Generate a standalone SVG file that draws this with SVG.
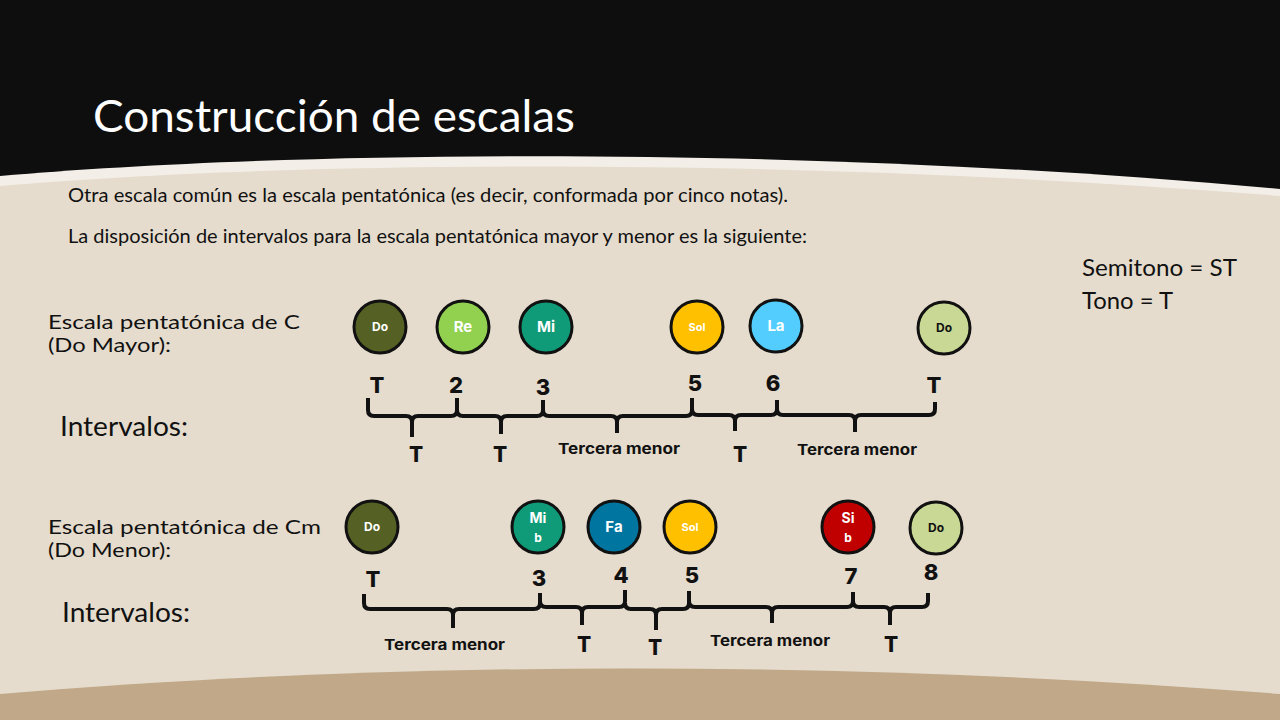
<svg xmlns="http://www.w3.org/2000/svg" width="1280" height="720" viewBox="0 0 1280 720">
<style>
.body{font-family:Lato,"Liberation Sans",sans-serif;fill:#111;}
.num{font-family:Inter,"Liberation Sans",sans-serif;font-weight:800;fill:#111;text-anchor:middle;}
.lab{font-family:Inter,"Liberation Sans",sans-serif;font-weight:700;fill:#111;font-size:15px;}
.note{stroke:#111;stroke-width:3;}
.nt{font-family:Inter,"Liberation Sans",sans-serif;font-weight:700;fill:#fff;text-anchor:middle;}
.brace{fill:none;stroke:#111;stroke-width:4;stroke-linejoin:round;}
</style>
<rect x="0" y="0" width="1280" height="720" fill="#0e0e0e"/>
<path d="M0,176 C300,150 800,145 1280,189 L1280,720 L0,720 Z" fill="#f3efe8"/>
<path d="M0,186 C300,160 800,157 1280,196 L1280,720 L0,720 Z" fill="#e5dccd"/>
<path d="M0,694 C400,660 850,660 1280,694 L1280,720 L0,720 Z" fill="#c0a888"/>

<text x="93" y="132" font-family="Lato,'Liberation Sans',sans-serif" font-size="44" fill="#ffffff" textLength="482" lengthAdjust="spacingAndGlyphs">Construcción de escalas</text>

<text class="body" x="68" y="202" font-size="19" textLength="720" lengthAdjust="spacingAndGlyphs">Otra escala común es la escala pentatónica (es decir, conformada por cinco notas).</text>
<text class="body" x="68" y="243" font-size="19" textLength="739" lengthAdjust="spacingAndGlyphs">La disposición de intervalos para la escala pentatónica mayor y menor es la siguiente:</text>

<text class="body" x="1082" y="276" font-size="24" textLength="155" lengthAdjust="spacingAndGlyphs">Semitono = ST</text>
<text class="body" x="1082" y="309" font-size="24" textLength="91" lengthAdjust="spacingAndGlyphs">Tono = T</text>

<text class="body" x="48" y="329" font-size="19" textLength="252" lengthAdjust="spacingAndGlyphs">Escala pentatónica de C</text>
<text class="body" x="48" y="352" font-size="19" textLength="123" lengthAdjust="spacingAndGlyphs">(Do Mayor):</text>
<text class="body" x="60" y="436" font-size="27" textLength="128" lengthAdjust="spacingAndGlyphs">Intervalos:</text>

<text class="body" x="48" y="534" font-size="19" textLength="273" lengthAdjust="spacingAndGlyphs">Escala pentatónica de Cm</text>
<text class="body" x="48" y="557" font-size="19" textLength="123" lengthAdjust="spacingAndGlyphs">(Do Menor):</text>
<text class="body" x="62" y="622" font-size="27" textLength="128" lengthAdjust="spacingAndGlyphs">Intervalos:</text>

<g id="n1-do"><circle class="note" cx="380" cy="327" r="26" fill="#556124"/><text class="nt" x="380" y="331" font-size="12">Do</text></g>
<g id="n1-re"><circle class="note" cx="463" cy="327" r="26" fill="#92d050"/><text class="nt" x="463" y="332" font-size="15">Re</text></g>
<g id="n1-mi"><circle class="note" cx="546" cy="327" r="26" fill="#0f9b77"/><text class="nt" x="546" y="332" font-size="15">Mi</text></g>
<g id="n1-sol"><circle class="note" cx="697" cy="327" r="26" fill="#ffc000"/><text class="nt" x="697" y="331" font-size="11">Sol</text></g>
<g id="n1-la"><circle class="note" cx="776" cy="326" r="26" fill="#52cdfd"/><text class="nt" x="776" y="331" font-size="15">La</text></g>
<g id="n1-do2"><circle class="note" cx="944" cy="328" r="26" fill="#c9d894"/><text class="nt" x="944" y="332" font-size="12" style="fill:#111">Do</text></g>

<g id="n2-do"><circle class="note" cx="372" cy="527" r="26" fill="#556124"/><text class="nt" x="372" y="531" font-size="12">Do</text></g>
<g id="n2-mib"><circle class="note" cx="538" cy="527" r="26" fill="#0f9b77"/><text class="nt" x="538" y="523" font-size="14">Mi</text><text class="nt" x="538" y="542" font-size="12">b</text></g>
<g id="n2-fa"><circle class="note" cx="614" cy="527" r="26" fill="#00759f"/><text class="nt" x="614" y="532" font-size="15">Fa</text></g>
<g id="n2-sol"><circle class="note" cx="690" cy="527" r="26" fill="#ffc000"/><text class="nt" x="690" y="531" font-size="11">Sol</text></g>
<g id="n2-sib"><circle class="note" cx="848" cy="527" r="26" fill="#c00000"/><text class="nt" x="848" y="523" font-size="14">Si</text><text class="nt" x="848" y="542" font-size="12">b</text></g>
<g id="n2-do2"><circle class="note" cx="936" cy="528" r="26" fill="#c9d894"/><text class="nt" x="936" y="532" font-size="12" style="fill:#111">Do</text></g>

<g id="numbers1" class="num" font-size="22">
<text x="377" y="393">T</text><text x="456" y="393">2</text><text x="543" y="395">3</text>
<text x="695" y="391">5</text><text x="773" y="391">6</text><text x="934" y="393">T</text>
</g>
<g id="numbers2" class="num" font-size="22">
<text x="373" y="587">T</text><text x="539" y="586">3</text><text x="621" y="583">4</text>
<text x="692" y="583">5</text><text x="851" y="584">7</text><text x="931" y="580">8</text>
</g>

<g id="connectors">
<path class="brace" d="M368,398 L368,410 Q368,416 374,416 L406,416 Q412,416 412,422 L412,437 M412,422 Q412,416 418,416 L451,416 Q457,416 457,410 L457,398"/>
<path class="brace" d="M457,410 Q457,416 463,416 L495,416 Q501,416 501,422 L501,434 M501,422 Q501,416 507,416 L537,416 Q543,416 543,410 L543,400"/>
<path class="brace" d="M543,410 Q543,416 549,416 L611,416 Q617,416 617,422 L617,433 M617,422 Q617,416 623,416 L686,416 Q692,416 692,410 L692,398"/>
<path class="brace" d="M692,409 Q692,415 698,415 L729,415 Q735,415 735,421 L735,431 M735,421 Q735,415 741,415 L771,415 Q777,415 777,409 L777,400"/>
<path class="brace" d="M777,409 Q777,415 783,415 L849,415 Q855,415 855,421 L855,432 M855,421 Q855,415 861,415 L929,415 Q935,415 935,409 L935,402"/>

<path class="brace" d="M364,594 L364,603 Q364,609 370,609 L447,609 Q453,609 453,615 L453,628 M453,615 Q453,609 459,609 L534,609 Q540,609 540,603 L540,593"/>
<path class="brace" d="M540,601 Q540,607 546,607 L576,607 Q582,607 582,613 L582,625 M582,613 Q582,607 588,607 L619,607 Q625,607 625,601 L625,590"/>
<path class="brace" d="M625,603 Q625,609 631,609 L650,609 Q656,609 656,615 L656,630 M656,615 Q656,609 662,609 L683,609 Q689,609 689,603 L689,591"/>
<path class="brace" d="M689,601 Q689,607 695,607 L766,607 Q772,607 772,613 L772,623 M772,613 Q772,607 778,607 L847,607 Q853,607 853,601 L853,592"/>
<path class="brace" d="M853,601 Q853,607 859,607 L884,607 Q890,607 890,613 L890,625 M890,613 Q890,607 896,607 L922,607 Q928,607 928,601 L928,593"/>
</g>

<g id="labels1">
<text class="num" x="416" y="462" font-size="21">T</text>
<text class="num" x="500" y="462" font-size="21">T</text>
<text class="lab" x="558" y="454" textLength="122" lengthAdjust="spacingAndGlyphs">Tercera menor</text>
<text class="num" x="740" y="462" font-size="21">T</text>
<text class="lab" x="797" y="455" textLength="120" lengthAdjust="spacingAndGlyphs">Tercera menor</text>
</g>
<g id="labels2">
<text class="lab" x="384" y="650" textLength="121" lengthAdjust="spacingAndGlyphs">Tercera menor</text>
<text class="num" x="584" y="652" font-size="21">T</text>
<text class="num" x="655" y="655" font-size="21">T</text>
<text class="lab" x="710" y="646" textLength="120" lengthAdjust="spacingAndGlyphs">Tercera menor</text>
<text class="num" x="891" y="652" font-size="21">T</text>
</g>
</svg>
